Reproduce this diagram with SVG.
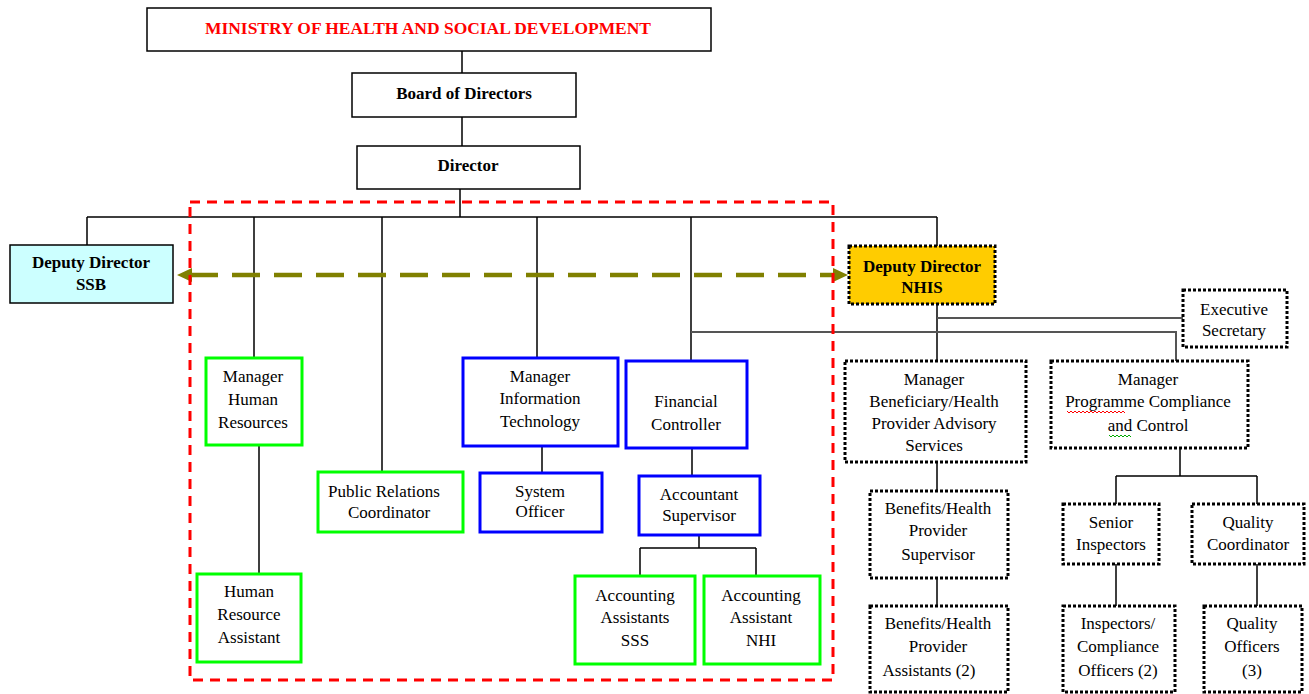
<svg xmlns="http://www.w3.org/2000/svg" width="1309" height="694" viewBox="0 0 1309 694">
<style>
text{font-size:17px;fill:#000;text-anchor:middle}
.b{font-weight:bold}
.plain{fill:#fff;stroke:#000;stroke-width:1.5}
.green{fill:#fff;stroke:#00ff00;stroke-width:3}
.blue{fill:#fff;stroke:#0000ff;stroke-width:3}
.dot{fill:#fff;stroke:#000;stroke-width:3;stroke-dasharray:3 2}
.ln{fill:none;stroke:#000;stroke-width:1.5}
.gl{fill:none;stroke:#555;stroke-width:2}
</style>
<g id="connectors">
<path class="ln" d="M462,51 V73 M462,117 V146 M460,189 V217 M87,217 H937 M87,217 V245 M254,217 V358 M382,217 V472 M537,217 V358 M691,217 V361 M937,217 V246 M259,445 V574 M542,445 V473 M692,447 V476 M699,535 V548 M640,548 H756 M640,548 V576 M756,548 V576 M937,304 V361 M937,462 V491 M937,578 V606 M1180,448 V476 M1116,476 H1257 M1116,476 V504 M1257,476 V504 M1116,564 V606 M1257,564 V606"/>
<path class="gl" d="M937,318 H1183 M691,332 H1176 V361"/>
<line x1="190" y1="275" x2="834" y2="275" stroke="#808000" stroke-width="4.5" stroke-dasharray="28 14"/>
<polygon points="177,275 192,268 192,282" fill="#808000"/>
<polygon points="848,275 833,268 833,282" fill="#808000"/>
</g>
<rect id="redzone" x="190" y="202" width="643" height="478" fill="none" stroke="#ff0000" stroke-width="3" stroke-dasharray="10 7"/>
<g font-family="'Liberation Serif', 'DejaVu Serif', serif">
<g id="ministry"><rect class="plain" x="147" y="8" width="564" height="43"/><text x="428" y="34" class="b" style="fill:#ff0000" textLength="446" lengthAdjust="spacingAndGlyphs">MINISTRY OF HEALTH AND SOCIAL DEVELOPMENT</text></g>
<g id="board"><rect class="plain" x="352" y="73" width="224" height="44"/><text x="464" y="99" class="b">Board of Directors</text></g>
<g id="director"><rect class="plain" x="357" y="146" width="223" height="43"/><text x="468" y="171" class="b">Director</text></g>
<g id="dd-ssb"><rect x="10" y="245" width="163" height="58" fill="#ccffff" stroke="#000" stroke-width="1.5"/><text x="91" y="268" class="b">Deputy Director</text><text x="91" y="290" class="b">SSB</text></g>
<g id="dd-nhis"><rect x="849" y="246" width="146" height="58" fill="#ffcc00" stroke="#000" stroke-width="3" stroke-dasharray="3 2"/><text x="922" y="272" class="b">Deputy Director</text><text x="922" y="293" class="b">NHIS</text></g>
<g id="exec-sec"><rect class="dot" x="1183" y="290" width="104" height="57"/><text x="1234" y="315">Executive</text><text x="1234" y="336">Secretary</text></g>
<g id="mgr-hr"><rect class="green" x="206" y="358" width="96" height="87"/><text x="253" y="382">Manager</text><text x="253" y="405">Human</text><text x="253" y="428">Resources</text></g>
<g id="pr-coord"><rect class="green" x="318" y="472" width="145" height="60"/><text x="384" y="497">Public Relations</text><text x="389" y="518">Coordinator</text></g>
<g id="mgr-it"><rect class="blue" x="463" y="358" width="155" height="88"/><text x="540" y="382">Manager</text><text x="540" y="404">Information</text><text x="540" y="427">Technology</text></g>
<g id="sys-officer"><rect class="blue" x="480" y="473" width="122" height="59"/><text x="540" y="497">System</text><text x="540" y="517">Officer</text></g>
<g id="fin-ctrl"><rect class="blue" x="626" y="361" width="121" height="87"/><text x="686" y="407">Financial</text><text x="686" y="430">Controller</text></g>
<g id="acct-sup"><rect class="blue" x="639" y="476" width="121" height="59"/><text x="699" y="500">Accountant</text><text x="699" y="521">Supervisor</text></g>
<g id="acct-sss"><rect class="green" x="575" y="576" width="120" height="88"/><text x="635" y="601">Accounting</text><text x="635" y="623">Assistants</text><text x="635" y="646">SSS</text></g>
<g id="acct-nhi"><rect class="green" x="704" y="576" width="116" height="88"/><text x="761" y="601">Accounting</text><text x="761" y="623">Assistant</text><text x="761" y="646">NHI</text></g>
<g id="hr-asst"><rect class="green" x="197" y="574" width="104" height="88"/><text x="249" y="597">Human</text><text x="249" y="620">Resource</text><text x="249" y="643">Assistant</text></g>
<g id="mgr-benef"><rect class="dot" x="845" y="361" width="181" height="101"/><text x="934" y="385">Manager</text><text x="934" y="407">Beneficiary/Health</text><text x="934" y="429">Provider Advisory</text><text x="934" y="451">Services</text></g>
<g id="mgr-prog"><rect class="dot" x="1051" y="361" width="197" height="87"/><text x="1148" y="385">Manager</text><text x="1148" y="407">Programme Compliance</text><text x="1148" y="431">and Control</text>
<path d="M1067,411 l2,2 l2,-2 l2,2 l2,-2 l2,2 l2,-2 l2,2 l2,-2 l2,2 l2,-2 l2,2 l2,-2 l2,2 l2,-2 l2,2 l2,-2 l2,2 l2,-2 l2,2 l2,-2 l2,2 l2,-2 l2,2 l2,-2 l2,2 l2,-2 l2,2 l2,-2 l2,2" fill="none" stroke="#ff0000" stroke-width="1"/>
<path d="M1109,435 l2,2 l2,-2 l2,2 l2,-2 l2,2 l2,-2 l2,2 l2,-2 l2,2 l2,-2 l2,2" fill="none" stroke="#00aa00" stroke-width="1"/></g>
<g id="ben-sup"><rect class="dot" x="870" y="491" width="138" height="87"/><text x="938" y="514">Benefits/Health</text><text x="938" y="536">Provider</text><text x="938" y="560">Supervisor</text></g>
<g id="ben-asst"><rect class="dot" x="870" y="606" width="138" height="86"/><text x="938" y="629">Benefits/Health</text><text x="938" y="652">Provider</text><text x="929" y="676">Assistants (2)</text></g>
<g id="sr-insp"><rect class="dot" x="1063" y="504" width="96" height="60"/><text x="1111" y="528">Senior</text><text x="1111" y="550">Inspectors</text></g>
<g id="qual-coord"><rect class="dot" x="1192" y="504" width="112" height="60"/><text x="1248" y="528">Quality</text><text x="1248" y="550">Coordinator</text></g>
<g id="insp"><rect class="dot" x="1063" y="606" width="112" height="86"/><text x="1118" y="629">Inspectors/</text><text x="1118" y="652">Compliance</text><text x="1118" y="676">Officers (2)</text></g>
<g id="qual-off"><rect class="dot" x="1204" y="606" width="98" height="86"/><text x="1252" y="629">Quality</text><text x="1252" y="652">Officers</text><text x="1252" y="676">(3)</text></g>
</g>
</svg>
